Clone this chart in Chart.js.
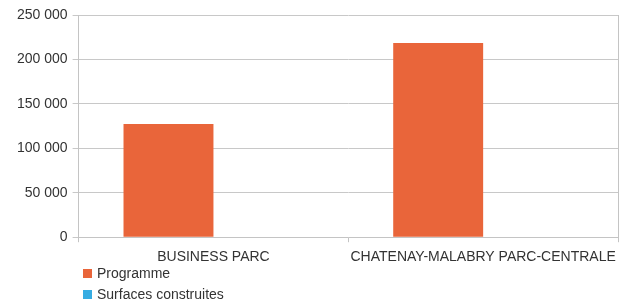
<!DOCTYPE html>
<html>
<head>
<meta charset="utf-8">
<script src="https://cdn.jsdelivr.net/npm/chart.js@4/dist/chart.umd.min.js"></script>
<style>
  body { margin: 0; background: #fff; font-family: "Liberation Sans", Arial, sans-serif; }
  #wrap { position: relative; width: 620px; height: 305px; }
  #chartBox { position: absolute; left: 0; top: 0; width: 620px; height: 273px; }
  #legend { position: absolute; left: 83px; top: 263px; font-size: 14px; color: #333; }
  #legend div { height: 21px; line-height: 21px; }
  #legend span.sw { display: inline-block; width: 9px; height: 9px; margin-right: 5px; vertical-align: 0px; }
</style>
</head>
<body>
<div id="wrap">
  <div id="chartBox"><canvas id="chartContainer"></canvas></div>
  <div id="legend"></div>
</div>
<script>
const categories = ['BUSINESS PARC', 'CHATENAY-MALABRY PARC-CENTRALE'];
const programme = [127500, 218500];
const surfaces = [0, 0];
const seriesNames = ['Programme', 'Surfaces construites'];
const seriesColors = ['#e9653a', '#36ace2'];
const yTicks = [0, 50000, 100000, 150000, 200000, 250000];

function fmt(v) {
  return String(v).replace(/\B(?=(\d{3})+(?!\d))/g, ' ');
}

const ctx = document.getElementById('chartContainer');

new Chart(ctx, {
  type: 'bar',
  data: {
    labels: categories,
    datasets: [
      { label: seriesNames[0], data: programme, backgroundColor: seriesColors[0] },
      { label: seriesNames[1], data: surfaces, backgroundColor: seriesColors[1] }
    ]
  },
  options: {
    responsive: true,
    maintainAspectRatio: false,
    animation: false,
    categoryPercentage: 0.667,
    barPercentage: 1,
    layout: { padding: { top: 15, left: 12, right: 2 } },
    plugins: { legend: { display: false }, tooltip: { enabled: false } },
    scales: {
      x: {
        offset: true,
        grid: { offset: true, drawOnChartArea: false, drawTicks: true, tickLength: 5, color: '#c4c4c4' },
        border: { color: '#c4c4c4' },
        ticks: { color: '#333', font: { family: 'Liberation Sans', size: 14 }, maxRotation: 0, padding: 7 },
        afterFit: (s) => { s.paddingRight = 0; s.paddingLeft = 0; }
      },
      y: {
        min: 0,
        max: 250000,
        afterBuildTicks: (axis) => { axis.ticks = yTicks.map(v => ({ value: v })); },
        grid: { color: '#c8c8c8', tickLength: 6 },
        border: { color: '#c4c4c4' },
        ticks: { color: '#333', font: { family: 'Liberation Sans', size: 14 }, padding: 5, callback: (v) => fmt(v) },
        afterFit: (s) => { s.paddingTop = 0; s.paddingBottom = 0; }
      },
      y2: {
        position: 'right',
        min: 0,
        max: 250000,
        grid: { drawOnChartArea: false, drawTicks: false },
        border: { color: '#c4c4c4' },
        ticks: { display: false }
      }
    }
  }
});

// legend below the chart, stacked on the left
const lg = document.getElementById('legend');
seriesNames.forEach((n, i) => {
  const d = document.createElement('div');
  d.innerHTML = '<span class="sw" style="background:' + seriesColors[i] + '"></span>' + n;
  lg.appendChild(d);
});
</script>
</body>
</html>
